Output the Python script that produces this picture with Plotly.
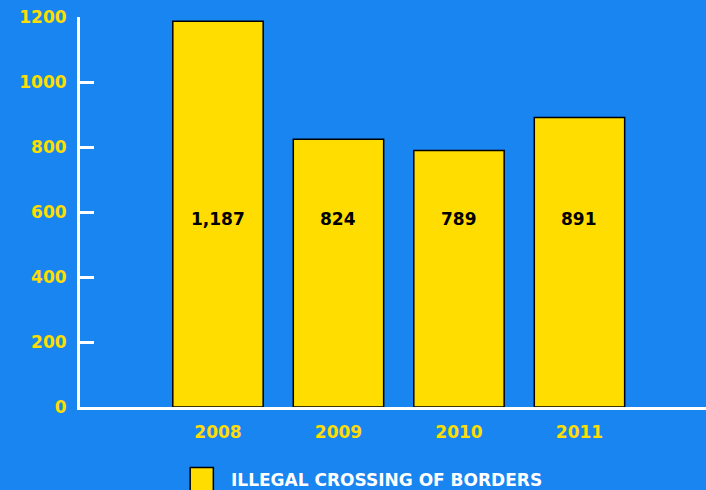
import plotly.graph_objects as go

years = ["2008", "2009", "2010", "2011"]
values = [1187, 824, 789, 891]
value_labels = ["1,187", "824", "789", "891"]
series_name = "ILLEGAL CROSSING OF BORDERS"
y_ticks = [0, 200, 400, 600, 800, 1000, 1200]

BG = "#1985F0"
YEL = "#FFDD00"
FONT = "DejaVu Sans"

fig = go.Figure()
fig.add_trace(go.Bar(
    x=years, y=values, name=series_name,
    marker=dict(color=YEL, line=dict(color="black", width=1.5)),
    width=0.75, showlegend=False,
))

for i, lab in enumerate(value_labels):
    fig.add_annotation(x=i, y=578, text="<b>%s</b>" % lab, showarrow=False,
                       font=dict(family=FONT, size=17, color="black"))

# legend
fig.add_shape(type="rect", xref="paper", yref="paper",
              x0=0.176, x1=0.213, y0=-0.155, y1=-0.215,
              fillcolor=YEL, line=dict(color="black", width=1.5))
fig.add_annotation(xref="paper", yref="paper", x=0.238, y=-0.187,
                   xanchor="left", yanchor="middle", showarrow=False,
                   text="<b>%s</b>" % series_name,
                   font=dict(family=FONT, size=17, color="white"))

fig.update_layout(
    width=706, height=490, autosize=False,
    margin=dict(l=80, r=0, t=17, b=83),
    paper_bgcolor=BG, plot_bgcolor=BG,
    font=dict(family=FONT, color=YEL),
    xaxis=dict(type="category", range=[-1.145, 4.05],
               showline=True, linecolor="white", linewidth=3,
               ticks="", showgrid=False, zeroline=False,
               tickfont=dict(family=FONT, size=17, color=YEL, weight="bold"),
               ticklabelstandoff=8),
    yaxis=dict(range=[0, 1200], tickvals=y_ticks,
               showline=True, linecolor="white", linewidth=3,
               ticks="inside", ticklen=14, tickwidth=3, tickcolor="white",
               showgrid=False, zeroline=False,
               tickfont=dict(family=FONT, size=17, color=YEL, weight="bold"),
               ticklabelstandoff=7),
)

fig.write_html("out.html")
